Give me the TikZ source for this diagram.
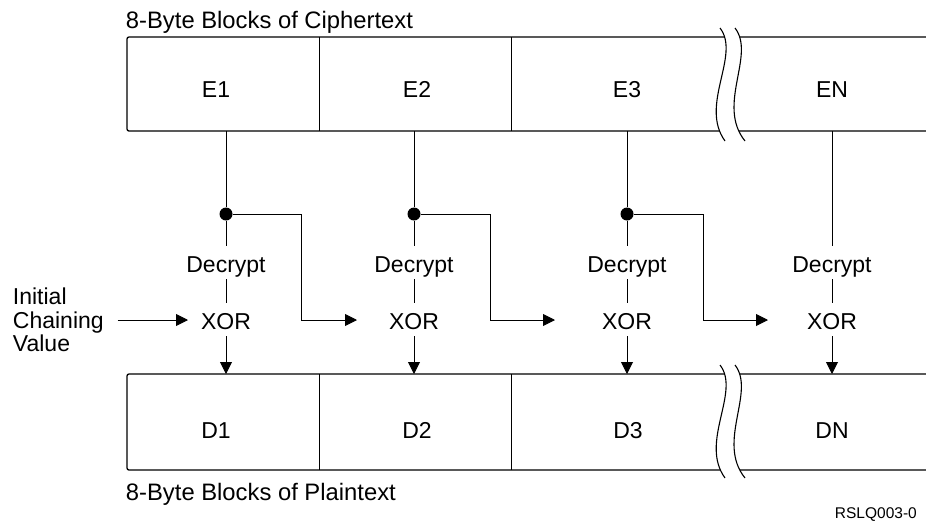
\documentclass[tikz,border=0pt]{standalone}
\usepackage{fontspec}
\setmainfont{Liberation Sans}
\usetikzlibrary{arrows.meta}

\begin{document}
\begin{tikzpicture}[x=1pt,y=1pt,yscale=-1,
  boxline/.style={line width=1.3pt},
  wire/.style={line width=0.9pt},
  arr/.style={wire,-{Triangle[length=12pt,width=12pt]}},
  blk/.style={font=\fontsize{23}{23.5}\selectfont,inner sep=0.75pt},
  stage/.style={font=\fontsize{23}{23.5}\selectfont,inner sep=0pt,text height=26pt,text depth=7pt},
  jdot/.style={circle,fill=black,inner sep=0pt,minimum size=13pt},
  brkline/.style={line width=1.1pt}]
\useasboundingbox (0,0) rectangle (926,520);

%Shape: Ciphertext blocks
\draw [boxline,rounded corners=2pt] (926,37) -- (127,37) -- (127,131) -- (926,131) ;
\draw [wire] (319,37) -- (319,131) ;
\draw [wire] (511,37) -- (511,131) ;
%Shape: Break in ciphertext blocks
\fill [white] (720,28) .. controls (741,55) and (699,105) .. (725,141) -- (745,141) .. controls (716,105) and (756,55) .. (735,28) -- cycle ;
\draw [brkline] (720,28) .. controls (741,55) and (699,105) .. (725,141) ;
\draw [brkline] (735,28) .. controls (756,55) and (716,105) .. (745,141) ;

%Shape: Plaintext blocks
\draw [boxline,rounded corners=2pt] (926,374) -- (127,374) -- (127,470) -- (926,470) ;
\draw [wire] (319,374) -- (319,470) ;
\draw [wire] (511,374) -- (511,470) ;
%Shape: Break in plaintext blocks
\fill [white] (720,365) .. controls (741,392) and (699,442) .. (725,478) -- (745,478) .. controls (716,442) and (756,392) .. (735,365) -- cycle ;
\draw [brkline] (720,365) .. controls (741,392) and (699,442) .. (725,478) ;
\draw [brkline] (735,365) .. controls (756,392) and (716,442) .. (745,478) ;

% Text Node
\draw (125,28) node [anchor=base west][blk,font=\fontsize{23.8}{24}\selectfont] (ctitle) {8-Byte Blocks of Ciphertext};
% Text Node
\draw (125,500) node [anchor=base west][blk,font=\fontsize{23.8}{24}\selectfont] (ptitle) {8-Byte Blocks of Plaintext};
% Text Node
\draw (917,518) node [anchor=base east][inner sep=0pt,font=\fontsize{15.5}{16}\selectfont] (figid) {RSLQ003-0};

% Text Node
\draw (216,97) node [anchor=base][blk] (e1) {E1};
\draw (417,97) node [anchor=base][blk] (e2) {E2};
\draw (627,97) node [anchor=base][blk] (e3) {E3};
\draw (832,97) node [anchor=base][blk] (en) {EN};
% Text Node
\draw (216,438) node [anchor=base][blk] (d1) {D1};
\draw (417,438) node [anchor=base][blk] (d2) {D2};
\draw (628,438) node [anchor=base][blk] (d3) {D3};
\draw (832,438) node [anchor=base][blk] (dn) {DN};

%Ends on the blocks
\coordinate (ct1) at (226,131) ; \coordinate (cb1) at (226,374) ;
\coordinate (ct2) at (414,131) ; \coordinate (cb2) at (414,374) ;
\coordinate (ct3) at (627,131) ; \coordinate (cb3) at (627,374) ;
\coordinate (ct4) at (832,131) ; \coordinate (cb4) at (832,374) ;

% Text Node
\draw (226,272) node [anchor=base][stage] (dec1) {Decrypt};
\draw (414,272) node [anchor=base][stage] (dec2) {Decrypt};
\draw (627,272) node [anchor=base][stage] (dec3) {Decrypt};
\draw (832,272) node [anchor=base][stage] (dec4) {Decrypt};
% Text Node
\draw (226,329) node [anchor=base][stage] (xor1) {XOR};
\draw (414,329) node [anchor=base][stage] (xor2) {XOR};
\draw (627,329) node [anchor=base][stage] (xor3) {XOR};
\draw (832,329) node [anchor=base][stage] (xor4) {XOR};

%Shape: Junction dots
\node [jdot] (dt1) at (226,214) {};
\node [jdot] (dt2) at (414,214) {};
\node [jdot] (dt3) at (627,214) {};

%Corners and inputs of the chaining lines
\coordinate (j1) at (301,320) ; \coordinate (in2) at (357,320) ;
\coordinate (j2) at (490,320) ; \coordinate (in3) at (555,320) ;
\coordinate (j3) at (703,320) ; \coordinate (in4) at (768,320) ;
\coordinate (in1) at (188,320) ;

% Text Node
\draw (12,320) node [anchor=west,align=left][blk] (init) {Initial\\Chaining\\Value};

%Straight Lines
\draw [wire] (ct1) -- (dt1) -- (dec1) -- (xor1) ;
\draw [wire] (ct2) -- (dt2) -- (dec2) -- (xor2) ;
\draw [wire] (ct3) -- (dt3) -- (dec3) -- (xor3) ;
\draw [wire] (ct4) -- (dec4) -- (xor4) ;
\draw [arr] (xor1) -- (cb1) ;
\draw [arr] (xor2) -- (cb2) ;
\draw [arr] (xor3) -- (cb3) ;
\draw [arr] (xor4) -- (cb4) ;
%Chaining lines
\draw [arr,shorten <=13pt] (init) -- (in1) ;
\draw [arr] (dt1) -| (j1) -- (in2) ;
\draw [arr] (dt2) -| (j2) -- (in3) ;
\draw [arr] (dt3) -| (j3) -- (in4) ;

\end{tikzpicture}
\end{document}
